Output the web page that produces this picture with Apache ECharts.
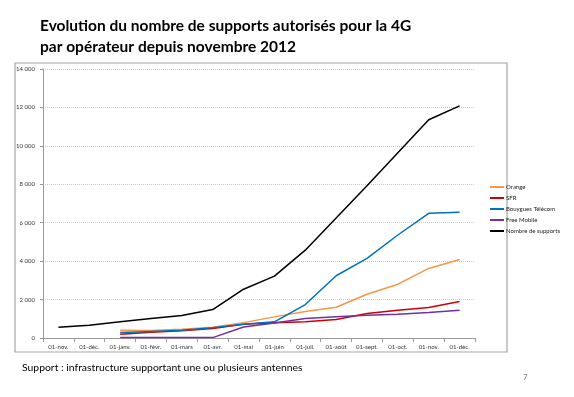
<!DOCTYPE html>
<html>
<head>
<meta charset="utf-8">
<script src="https://cdn.jsdelivr.net/npm/echarts@6/dist/echarts.min.js"></script>
<style>
html, body { margin: 0; padding: 0; background: #fff; }
#chart { width: 574px; height: 397px; }
</style>
</head>
<body>
<div id="chart"></div>
<script>
// mois (nov. 2012 -> déc. 2013)
var months = ['01-nov.', '01-déc.', '01-janv.', '01-févr.', '01-mars', '01-avr.', '01-mai', '01-juin',
    '01-juil.', '01-août', '01-sept.', '01-oct.', '01-nov.', '01-déc.'];
var orange = [null, null, 400, 390, 450, 560, 800, 1100, 1380, 1600, 2280, 2800, 3620, 4090];
var sfr = [null, null, 200, 300, 380, 500, 720, 800, 840, 960, 1270, 1450, 1590, 1900];
var bouygues = [null, null, 280, 340, 400, 540, 710, 840, 1740, 3240, 4140, 5360, 6490, 6550];
var free = [null, null, 20, 20, 20, 20, 575, 780, 1010, 1100, 1185, 1240, 1330, 1450];
var supports = [560, 660, 840, 1010, 1170, 1480, 2540, 3220, 4570, 6250, 7920, 9640, 11360, 12080];
var seriesNames = ['Orange', 'SFR', 'Bouygues Télécom', 'Free Mobile', 'Nombre de supports'];
var seriesColors = ['#F79646', '#D00000', '#0070C0', '#7030A0', '#000000'];

var chart = echarts.init(document.getElementById('chart'));
var data = [orange, sfr, bouygues, free, supports];

chart.setOption({
    animation: false,
    textStyle: { fontFamily: 'Lato, sans-serif' },
    graphic: [
        {
            type: 'rect',
            shape: { x: 15, y: 63, width: 492, height: 289 },
            style: { fill: 'none', stroke: '#a6a6a6', lineWidth: 1.2 },
            z: -1
        },
        {
            type: 'text', left: 40, top: 15,
            style: {
                text: 'Evolution du nombre de supports autorisés pour la 4G\npar opérateur depuis novembre 2012',
                font: 'bold 15.5px Lato, sans-serif', fill: '#000', lineHeight: 21
            }
        },
        {
            type: 'text', left: 22, top: 363,
            style: {
                text: 'Support : infrastructure supportant une ou plusieurs antennes',
                font: '10.4px Lato, sans-serif', fill: '#000'
            }
        },
        {
            type: 'text', left: 523, top: 373,
            style: { text: '7', font: '8px Lato, sans-serif', fill: '#888' }
        }
    ],
    legend: {
        orient: 'vertical',
        left: 485,
        top: 179,
        itemWidth: 14,
        itemHeight: 2,
        itemGap: 5,
        icon: 'rect',
        textStyle: { fontSize: 6, color: '#222', padding: [0, 0, 0, -3] },
        data: seriesNames
    },
    grid: {
        left: 43, right: 99, top: 69, bottom: 59, containLabel: false
    },
    xAxis: {
        type: 'category',
        data: months,
        boundaryGap: true,
        axisLine: { lineStyle: { color: '#999' } },
        axisTick: { show: true, length: 4, lineStyle: { color: '#999' } },
        axisLabel: { fontSize: 6, color: '#333', margin: 6, interval: 0 }
    },
    yAxis: {
        type: 'value',
        min: 0,
        max: 14000,
        interval: 2000,
        axisLine: { show: true, lineStyle: { color: '#999' } },
        axisTick: { show: true, length: 3, lineStyle: { color: '#999' } },
        splitLine: { lineStyle: { color: '#ccc', type: 'dotted' } },
        axisLabel: {
            fontSize: 6, color: '#333', margin: 8,
            formatter: function (v) { return String(v).replace(/\B(?=(\d{3})+(?!\d))/g, ' '); }
        }
    },
    series: seriesNames.map(function (n, i) {
        return {
            name: n,
            type: 'line',
            data: data[i],
            showSymbol: false,
            symbol: 'none',
            connectNulls: false,
            color: seriesColors[i],
            lineStyle: { width: 1.5, color: seriesColors[i] },
            z: i === 4 ? 3 : 2
        };
    })
});
</script>
</body>
</html>
